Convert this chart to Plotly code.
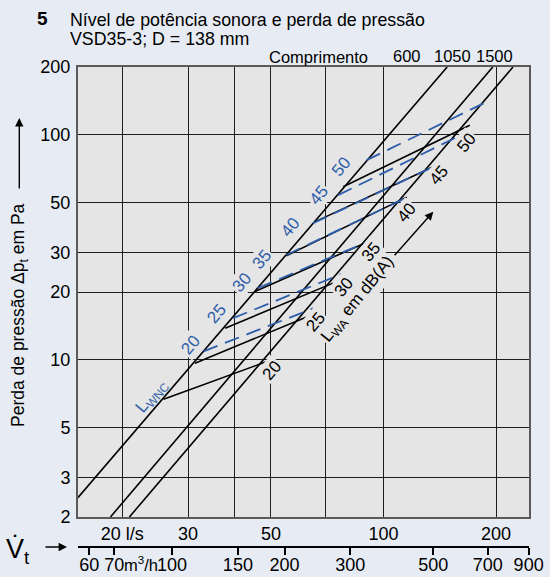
import numpy as np
import plotly.graph_objects as go

# ---- data (volume flow in l/s, pressure drop in Pa) ----
# pressure-loss lines for three duct lengths in mm
lengths = ["600", "1050", "1500"]
dp_flow = [[15.2, 148.0], [18.6, 196.0], [20.9, 222.0]]
dp_pa = [[2.43, 200.0], [2.0, 200.0], [2.0, 200.0]]

# sound power level L_WA in dB(A)
lwa_levels = [20, 25, 30, 35, 40, 45, 50]
lwa_flow = [[25.8, 48.7], [31.3, 62.3], [37.7, 73.3], [45.3, 92.9],
            [55.0, 115.4], [65.5, 138.6], [78.0, 170.1]]
lwa_pa = [[6.68, 9.81], [9.65, 15.5], [13.8, 21.9], [20.1, 34.0],
          [29.0, 52.8], [41.0, 73.2], [58.7, 110.2]]

# noise criterion L_WNC
lwnc_levels = [20, 25, 30, 35, 40, 45, 50]
lwnc_flow = [[33.0, 64.8], [39.6, 78.0], [46.1, 92.9], [55.0, 116.3],
             [64.8, 138.6], [75.6, 162.9], [90.1, 188.5]]
lwnc_pa = [[10.9, 16.9], [15.3, 24.2], [20.8, 34.0], [29.2, 53.0],
           [40.4, 73.2], [53.9, 100.5], [77.1, 139.9]]

# axis ticks
ls_grid = [20, 30, 40, 50, 70, 100, 200]
ls_text = ["20 l/s", "30", "", "50", "", "100", "200"]
pa_ticks = [2, 3, 5, 10, 20, 30, 50, 100, 200]
m3h_ticks = [60, 70, 100, 150, 200, 300, 500, 700, 900]

# ---- styling ----
FONT = "Liberation Sans, Arial, Helvetica, sans-serif"
PAGE_BG = "#E7ECF4"
PLOT_BG = "#E5E5E5"
BLUE = "#2E5DAA"
W, H = 550, 577
L, R, T, B = 78, 21, 67, 30
PW, PH = W - L - R, H - T - B

# label anchor points (px from top-left of the page)
LWA_LABEL_POS = [(271.7, 370), (315, 322), (343.3, 287), (371.7, 252),
                 (406.7, 212.5), (438.3, 175), (466.7, 142.5)]
LWNC_LABEL_POS = [(190, 345), (216.7, 313.3), (241.7, 282), (261.7, 259),
                  (290, 227.5), (318.3, 195), (341.7, 166.7)]


def fx(px):
    return (px - L) / PW


def fy(py):
    return (H - B - py) / PH


def note(px, py, text, size=16, color="black", **kw):
    d = dict(x=fx(px), y=fy(py), xref="paper", yref="paper", text=text,
             showarrow=False, xanchor="center", yanchor="middle",
             font=dict(size=size, color=color))
    d.update(kw)
    return d


def arrow(hx, hy, ax, ay):
    return dict(x=fx(hx), y=fy(hy), xref="paper", yref="paper", text="",
                showarrow=True, ax=ax, ay=ay, arrowhead=2, arrowsize=1.2,
                arrowwidth=1.4, arrowcolor="black")


fig = go.Figure()

for xs, ys in zip(dp_flow, dp_pa):
    fig.add_trace(go.Scatter(x=xs, y=ys, mode="lines",
                             line=dict(color="black", width=1.6),
                             showlegend=False, hoverinfo="skip"))

for xs, ys in zip(lwa_flow, lwa_pa):
    fig.add_trace(go.Scatter(x=xs, y=ys, mode="lines",
                             line=dict(color="black", width=1.6),
                             showlegend=False, hoverinfo="skip"))

for xs, ys in zip(lwnc_flow, lwnc_pa):
    fig.add_trace(go.Scatter(x=xs, y=ys, mode="lines",
                             line=dict(color=BLUE, width=1.8, dash="15px,8px"),
                             showlegend=False, hoverinfo="skip"))

# carrier trace for the m3/h scale
fig.add_trace(go.Scatter(x=m3h_ticks, y=[None] * len(m3h_ticks), xaxis="x2",
                         yaxis="y", mode="markers", showlegend=False,
                         hoverinfo="skip"))

ann = []
for lv, (px, py) in zip(lwa_levels, LWA_LABEL_POS):
    ann.append(note(px, py, str(lv), 17, textangle=-50, bgcolor=PLOT_BG))
for lv, (px, py) in zip(lwnc_levels, LWNC_LABEL_POS):
    ann.append(note(px, py, str(lv), 17, BLUE, textangle=-50,
                    bgcolor=PLOT_BG))

ann += [
    note(151.7, 396.7, "L<sub>WNC</sub>", 17, BLUE, textangle=-50),
    note(358, 300, "L<sub>WA</sub> em dB(A)", 17, textangle=-51,
         bgcolor=PLOT_BG),
    arrow(433.3, 211.7, -40, 45),
    # titles
    note(42, 18, "<b>5</b>", 19),
    note(68, 20, "Nível de potência sonora e perda de pressão", 17.8,
         xanchor="left"),
    note(68, 39, "VSD35-3; D = 138 mm", 17.8, xanchor="left"),
    note(318, 57, "Comprimento", 16.5),
    # axis titles
    note(19, 315, "Perda de pressão Δp<sub>t</sub> em Pa", 17.5,
         textangle=-90),
    arrow(19.3, 118, 0, 72),
    note(18, 551, "V̇<sub>t</sub>", 27),
    arrow(67, 547, -23, 0),
    note(141, 564, "m<sup>3</sup>/h", 16.5),
]
for name, px in zip(lengths, [407, 452.7, 494.7]):
    ann.append(note(px, 56, name, 16.5))

ydom0 = (H - B - 517) / PH

fig.update_layout(
    width=W, height=H,
    margin=dict(l=L, r=R, t=T, b=B, pad=0, autoexpand=False),
    paper_bgcolor=PAGE_BG, plot_bgcolor=PLOT_BG,
    font=dict(family=FONT, size=16, color="black"),
    annotations=ann,
    xaxis=dict(type="log", range=[np.log10(15.23), np.log10(245)],
               domain=[0, 1], anchor="y", automargin=False,
               tickvals=ls_grid, ticktext=ls_text, ticks="",
               ticklabelstandoff=-1,
               showgrid=True, gridcolor="#1e1e1e", gridwidth=1,
               showline=True, linecolor="#5a5a5a", linewidth=2, mirror=True,
               zeroline=False, tickfont=dict(size=18)),
    xaxis2=dict(type="log", range=[np.log10(56), np.log10(902)],
                overlaying="x", anchor="free", position=0, side="bottom",
                automargin=False,
                tickvals=m3h_ticks, ticktext=[str(v) for v in m3h_ticks],
                ticks="outside", ticklen=7, tickwidth=1.5, tickcolor="black",
                ticklabelstandoff=-5,
                showgrid=False, showline=True, linecolor="black", linewidth=1.5,
                zeroline=False, tickfont=dict(size=18)),
    yaxis=dict(type="log", range=[np.log10(2), np.log10(200)],
               domain=[ydom0, 1], automargin=False,
               tickvals=pa_ticks, ticktext=[str(v) for v in pa_ticks],
               ticks="", ticklabelstandoff=2,
               showgrid=True, gridcolor="#1e1e1e", gridwidth=1,
               showline=True, linecolor="#5a5a5a", linewidth=2, mirror=True,
               zeroline=False, tickfont=dict(size=18)),
)

fig.write_html("out.html")
